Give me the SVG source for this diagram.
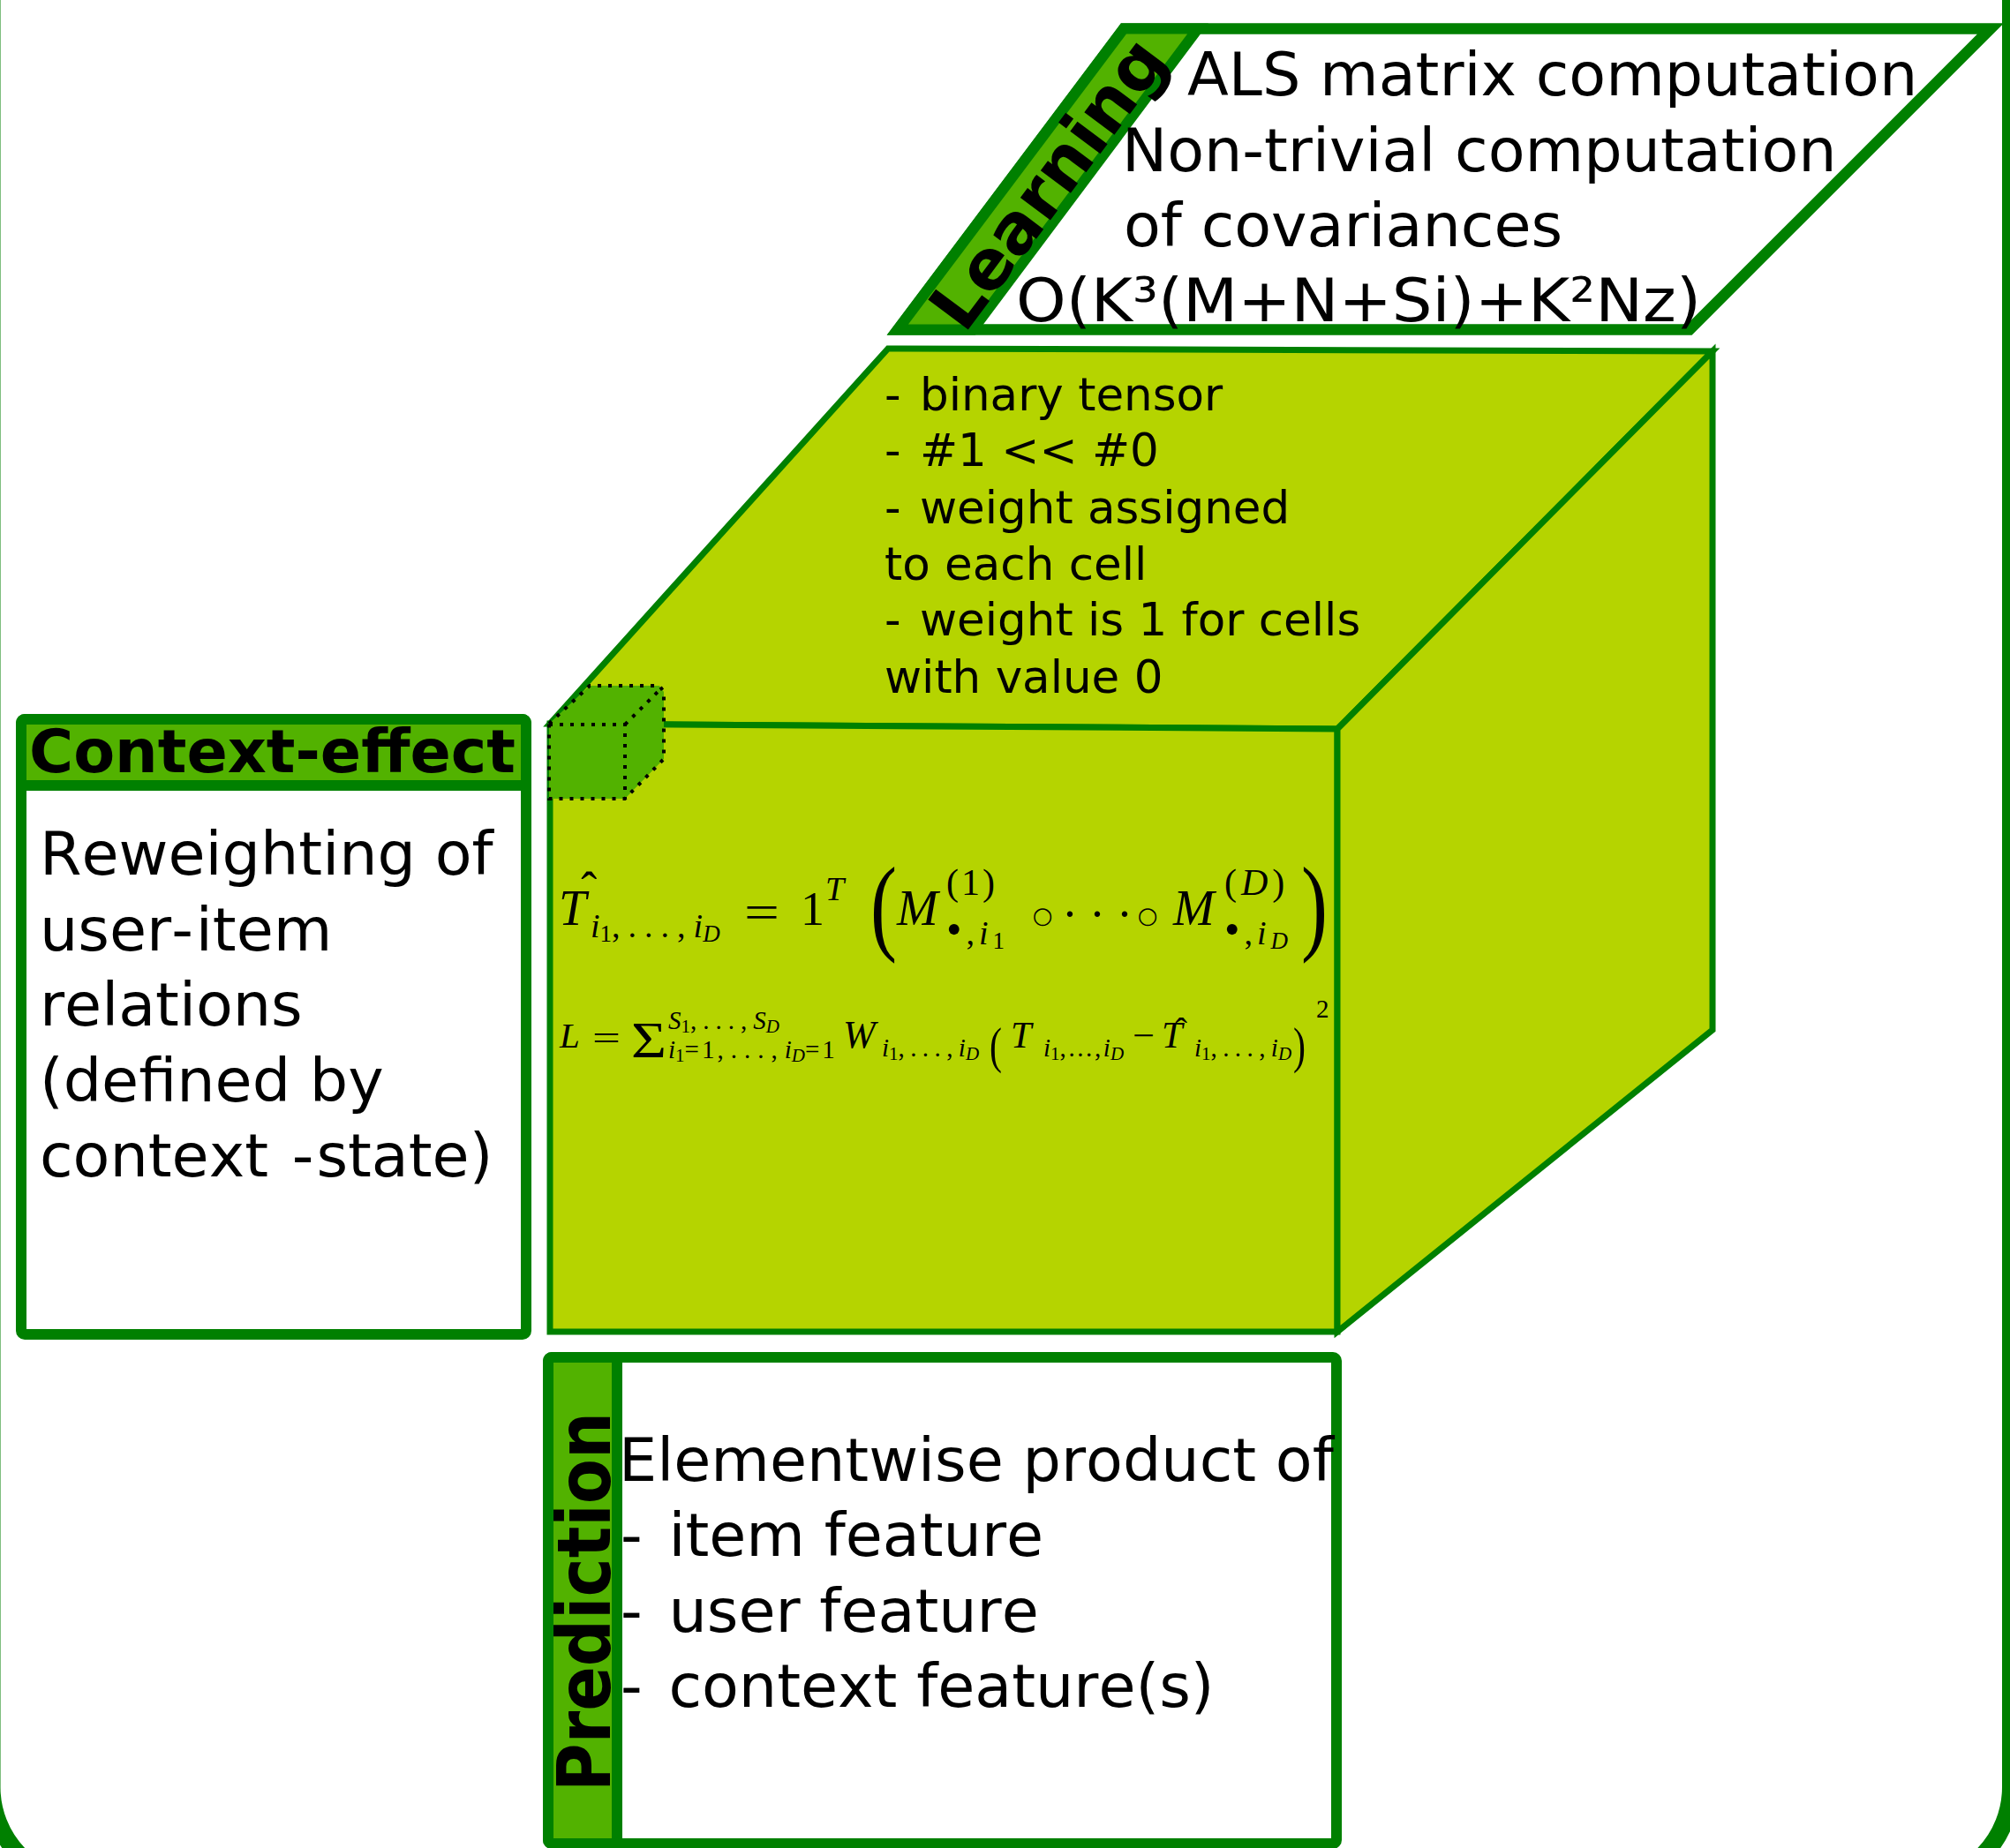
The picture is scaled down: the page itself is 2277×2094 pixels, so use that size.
<svg xmlns="http://www.w3.org/2000/svg" width="2277" height="2094" viewBox="0 0 2277 2094">
  <style>
    .dk { stroke: #008000; }
    .band { fill: #52b200; stroke: #008000; stroke-width: 12; }
    .cube { fill: #b5d400; stroke: #008000; stroke-width: 7; stroke-linejoin: miter; }
    .dots { fill: none; stroke: #000; stroke-width: 4; stroke-dasharray: 4 8; }
    .sans { font-family: "DejaVu Sans", Verdana, sans-serif; fill: #000; font-kerning: none; }
    .big { font-size: 68.4px; }
    .mid { font-size: 51.5px; }
    .bold { font-weight: bold; }
    .m { font-family: "Liberation Serif", "DejaVu Serif", serif; fill: #000; }
    .mi { font-style: italic; }
    .ring { font-family: "DejaVu Sans", sans-serif; font-size: 26px; }
  </style>

  <rect x="0" y="0" width="2277" height="2094" fill="#fff"/>

  <!-- outer rounded frame, mostly running off the canvas -->
  <rect id="frame" x="-9.5" y="-300" width="2287.5" height="2435" rx="110" fill="none" stroke="#008000" stroke-width="20"/>

  <!-- Learning panel -->
  <g id="learning">
    <path d="M1273,32.5 L2255,32.5 L1914,373.5 L1017,373.5 Z" fill="#fff" class="dk" stroke-width="12.5"/>
    <path d="M1273,32.5 L1357,32.5 L1102,373.5 L1017,373.5 Z" class="band" stroke-width="12.5"/>
    <text class="sans bold" font-size="78" text-anchor="middle" textLength="388" lengthAdjust="spacingAndGlyphs" transform="translate(1209,224) rotate(-53.13)">Learning</text>
    <g class="sans big">
      <text x="1345" y="108">ALS matrix computation</text>
      <text x="1271" y="194">Non-trivial computation</text>
      <text x="1273" y="279">of covariances</text>
      <text x="1151" y="364" textLength="776" lengthAdjust="spacingAndGlyphs">O(K³(M+N+Si)+K²Nz)</text>
    </g>
  </g>

  <!-- tensor cube -->
  <g id="tensor">
    <polygon class="cube" points="1006,395 1940,398 1515,826 623,820"/>
    <polygon class="cube" points="623,820 1515,826 1515,1509 623,1509"/>
    <polygon class="cube" points="1515,826 1940,398 1940,1167 1515,1509"/>
    <g class="sans mid">
      <text x="1002" y="465">-<tspan dx="5"> binary tensor</tspan></text>
      <text x="1002" y="528">-<tspan dx="5"> #1 &lt;&lt; #0</tspan></text>
      <text x="1002" y="593">-<tspan dx="5"> weight assigned</tspan></text>
      <text x="1002" y="657">to each cell</text>
      <text x="1002" y="720">-<tspan dx="5"> weight is 1 for cells</tspan></text>
      <text x="1002" y="785">with value 0</text>
    </g>
  </g>

  <!-- single cell of the tensor -->
  <g id="cell">
    <polygon points="622,820 668,777 747,777 752,784 752,860 708,905 622,905" fill="#52b200"/>
    <polygon class="dots" points="622,820 668,777 747,777 752,784 752,860 708,905 622,905"/>
    <polyline class="dots" points="622,821 708,821 708,905"/>
    <line class="dots" x1="708" y1="821" x2="749" y2="780"/>
  </g>

  <!-- prediction formula -->
  <g id="formula-prediction" class="m">
    <text x="633" y="1048" font-size="56"><tspan class="mi">T</tspan><tspan dx="-6" dy="-22" font-size="54">ˆ</tspan></text>
    <text x="669" y="1062" font-size="38"><tspan class="mi">i</tspan><tspan font-size="27" dy="5">1</tspan><tspan dy="-5" letter-spacing="9">,...,</tspan><tspan class="mi">i</tspan><tspan class="mi" font-size="27" dy="5">D</tspan></text>
    <text x="843" y="1052" font-size="54" textLength="40" lengthAdjust="spacingAndGlyphs">=</text>
    <text x="907" y="1048" font-size="54">1</text>
    <text x="935" y="1020" class="mi" font-size="38">T</text>
    <text font-size="120" transform="translate(986,1066) scale(0.75,1)">(</text>
    <text x="1016" y="1048" class="mi" font-size="56">M</text>
    <text x="1072" y="1014" font-size="42" letter-spacing="3">(1)</text>
    <text x="1072" y="1070" font-size="38" letter-spacing="5"><tspan font-size="50">•</tspan>,<tspan class="mi">i</tspan><tspan font-size="27" dy="5">1</tspan></text>
    <text x="1181" y="1046" class="ring" text-anchor="middle">○</text>
    <text x="1212" y="1054" font-size="54" text-anchor="middle">·</text>
    <text x="1243" y="1054" font-size="54" text-anchor="middle">·</text>
    <text x="1274" y="1054" font-size="54" text-anchor="middle">·</text>
    <text x="1300" y="1046" class="ring" text-anchor="middle">○</text>
    <text x="1329" y="1048" class="mi" font-size="56">M</text>
    <text x="1387" y="1014" font-size="42" letter-spacing="5">(<tspan class="mi">D</tspan>)</text>
    <text x="1387" y="1070" font-size="38" letter-spacing="5"><tspan font-size="50">•</tspan>,<tspan class="mi">i</tspan><tspan class="mi" font-size="27" dy="5">D</tspan></text>
    <text font-size="120" transform="translate(1474,1066) scale(0.75,1)">)</text>
  </g>

  <!-- loss formula -->
  <g id="formula-loss" class="m">
    <text x="634" y="1187" class="mi" font-size="41">L</text>
    <text x="671" y="1190" font-size="41" textLength="32" lengthAdjust="spacingAndGlyphs">=</text>
    <text x="715" y="1198" font-size="56" textLength="40" lengthAdjust="spacingAndGlyphs">Σ</text>
    <text x="757" y="1166" font-size="29"><tspan class="mi">S</tspan><tspan font-size="21" dy="4">1</tspan><tspan dy="-4" letter-spacing="7">,...,</tspan><tspan class="mi">S</tspan><tspan class="mi" font-size="21" dy="4">D</tspan></text>
    <text x="757" y="1199" font-size="29"><tspan class="mi">i</tspan><tspan font-size="21" dy="4">1</tspan><tspan dy="-4" letter-spacing="3">=1</tspan><tspan letter-spacing="8">,...,</tspan><tspan class="mi">i</tspan><tspan class="mi" font-size="21" dy="4">D</tspan><tspan dy="-4" letter-spacing="3">=1</tspan></text>
    <text x="955" y="1187" class="mi" font-size="44">W</text>
    <text x="999" y="1197" font-size="29"><tspan class="mi">i</tspan><tspan font-size="21" dy="4">1</tspan><tspan dy="-4" letter-spacing="6.4">,...,</tspan><tspan class="mi">i</tspan><tspan class="mi" font-size="21" dy="4">D</tspan></text>
    <text font-size="56" transform="translate(1121,1204) scale(0.75,1)">(</text>
    <text x="1145" y="1187" class="mi" font-size="42">T</text>
    <text x="1182" y="1197" font-size="29"><tspan class="mi">i</tspan><tspan font-size="21" dy="4">1</tspan><tspan dy="-4" letter-spacing="2.6">,...,</tspan><tspan class="mi">i</tspan><tspan class="mi" font-size="21" dy="4">D</tspan></text>
    <text x="1283" y="1187" font-size="41" textLength="25" lengthAdjust="spacingAndGlyphs">−</text>
    <text x="1316" y="1187" font-size="42"><tspan class="mi">T</tspan><tspan dx="-8" dy="-6" font-size="41">ˆ</tspan></text>
    <text x="1353" y="1197" font-size="29"><tspan class="mi">i</tspan><tspan font-size="21" dy="4">1</tspan><tspan dy="-4" letter-spacing="6.4">,...,</tspan><tspan class="mi">i</tspan><tspan class="mi" font-size="21" dy="4">D</tspan></text>
    <text font-size="56" transform="translate(1465,1204) scale(0.75,1)">)</text>
    <text x="1491" y="1153" font-size="29">2</text>
  </g>

  <!-- Context-effect box -->
  <g id="context-effect">
    <rect x="24" y="815" width="572" height="697" rx="4" fill="#fff" class="dk" stroke-width="12"/>
    <rect x="24" y="815" width="572" height="75" rx="4" class="band"/>
    <text x="33" y="875" class="sans big bold" textLength="551" lengthAdjust="spacingAndGlyphs">Context-effect</text>
    <g class="sans big">
      <text x="45" y="991">Reweighting of</text>
      <text x="45" y="1077">user-<tspan dx="3">item</tspan></text>
      <text x="45" y="1162">relations</text>
      <text x="45" y="1248">(defined by</text>
      <text x="45" y="1333">context<tspan dx="5"> -</tspan><tspan dx="3">state)</tspan></text>
    </g>
  </g>

  <!-- Prediction box -->
  <g id="prediction">
    <rect x="621" y="1538" width="893" height="551" rx="4" fill="#fff" class="dk" stroke-width="12"/>
    <rect x="621" y="1538" width="78" height="551" rx="4" class="band"/>
    <text class="sans bold" font-size="84" text-anchor="middle" textLength="430" lengthAdjust="spacingAndGlyphs" transform="translate(691,1815) rotate(-90)">Prediction</text>
    <g class="sans big">
      <text x="701" y="1678">Elementwise product of</text>
      <text x="703" y="1763">-<tspan dx="8"> item feature</tspan></text>
      <text x="703" y="1849">-<tspan dx="8"> user feature</tspan></text>
      <text x="703" y="1934">-<tspan dx="8"> context feature(s)</tspan></text>
    </g>
  </g>
</svg>
